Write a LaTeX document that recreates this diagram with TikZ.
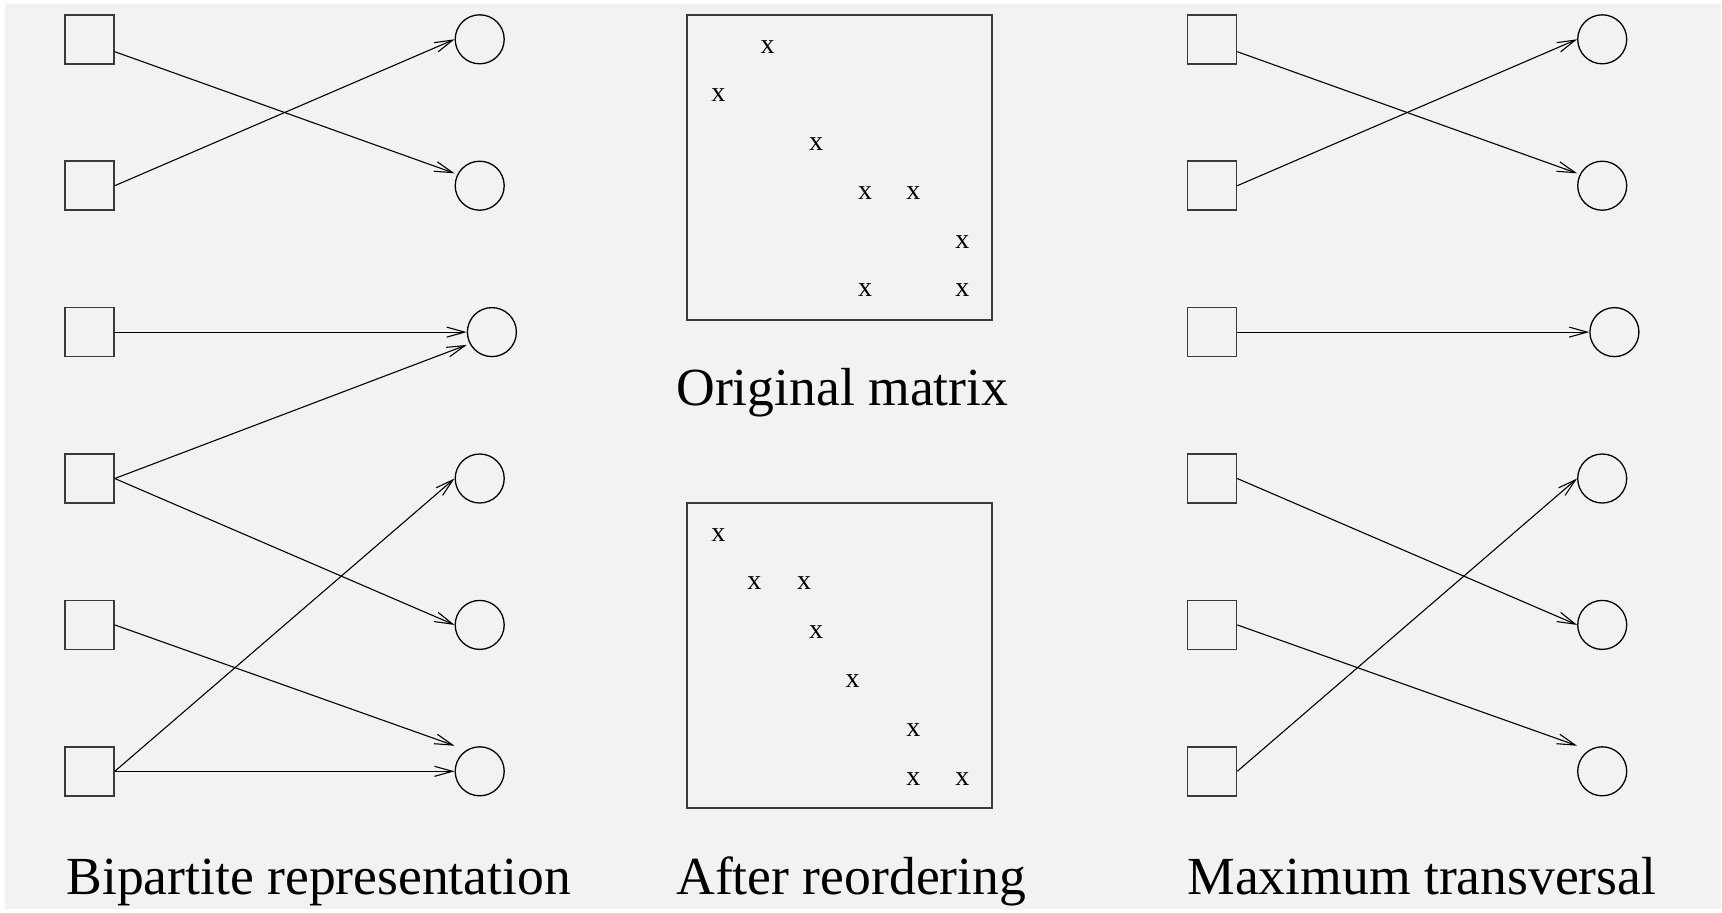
\documentclass[tikz,border=0pt]{standalone}
\usepackage{fontspec}
\setmainfont{Liberation Serif}
\usetikzlibrary{arrows.meta}
\definecolor{bgc}{HTML}{F2F2F2}
\definecolor{outl}{HTML}{3A3A3A}
\begin{document}
\begin{tikzpicture}[x=0.5pt,y=-0.5pt,
  sq/.style={draw=outl, line width=0.75pt, rectangle, minimum size=24.5pt, inner sep=0pt},
  cir/.style={draw=black, line width=0.65pt, circle, minimum size=24.5pt, inner sep=0pt},
  arr/.style={draw=black, line width=0.55pt, -{Straight Barb[length=9pt,width=5pt]}},
  ent/.style={inner sep=0pt, yshift=-1pt, font=\fontsize{14}{16}\selectfont},
  lab/.style={inner sep=0pt, anchor=base west, font=\fontsize{26.8}{30}\selectfont},
  mbox/.style={draw=outl, line width=0.75pt, rectangle, minimum size=152.5pt, inner sep=0pt}]
\useasboundingbox (0,0) rectangle (1722,912);
\fill[white] (0,0) rectangle (1722,912);
\fill[bgc] (5,4) rectangle (1721,909);

% ---------- left: bipartite representation ----------
\foreach \i/\y in {1/39.3,2/185.7,3/332.1,4/478.5,5/624.9,6/771.3}{
  \node[sq] (L\i) at (89.5,\y) {};
}
\node[cir] (R1) at (479.7,39.3) {};
\node[cir] (R2) at (479.7,185.7) {};
\node[cir] (R3) at (491.9,332.1) {};
\node[cir] (R4) at (479.7,478.5) {};
\node[cir] (R5) at (479.7,624.9) {};
\node[cir] (R6) at (479.7,771.3) {};

\draw[arr] ([yshift=-6.2pt]L1.east) -- ([yshift=6.2pt]R2.west);
\draw[arr] (L2.east) -- (R1.west);
\draw[arr] (L3.east) -- (R3.west);
\draw[arr] (L4.east) -- ([yshift=-6.4pt]R3.west);
\draw[arr] (L4.east) -- (R5.west);
\draw[arr] (L5.east) -- ([yshift=12.8pt]R6.west);
\draw[arr] (L6.east) -- (R4.west);
\draw[arr] (L6.east) -- (R6.west);

\node[lab] (tL) at (66,894) {Bipartite representation};

% ---------- middle: matrices ----------
\node[mbox] (MA) at (839.5,167.5) {};
\node[ent] (a12) at (767.7,45) {x};
\node[ent] (a21) at (718.3,93.3) {x};
\node[ent] (a33) at (816,141.7) {x};
\node[ent] (a44) at (865,191) {x};
\node[ent] (a45) at (913.3,191) {x};
\node[ent] (a56) at (962.3,240) {x};
\node[ent] (a64) at (865,288.3) {x};
\node[ent] (a66) at (962.3,288.3) {x};
\node[lab] (tA) at (676,405) {Original matrix};

\node[mbox] (MB) at (839.5,655.5) {};
\node[ent] (b11) at (718.3,533.3) {x};
\node[ent] (b22) at (754.3,580.7) {x};
\node[ent] (b23) at (804,580.7) {x};
\node[ent] (b33) at (816,630) {x};
\node[ent] (b44) at (852.7,679.3) {x};
\node[ent] (b55) at (913.3,727.7) {x};
\node[ent] (b65) at (913.3,776.7) {x};
\node[ent] (b66) at (962.3,776.7) {x};
\node[lab] (tB) at (676,894) {After reordering};

% ---------- right: maximum transversal ----------
\foreach \i/\y in {1/39.3,2/185.7,3/332.1,4/478.5,5/624.9,6/771.3}{
  \node[sq] (P\i) at (1212,\y) {};
}
\node[cir] (Q1) at (1602.2,39.3) {};
\node[cir] (Q2) at (1602.2,185.7) {};
\node[cir] (Q3) at (1614.4,332.1) {};
\node[cir] (Q4) at (1602.2,478.5) {};
\node[cir] (Q5) at (1602.2,624.9) {};
\node[cir] (Q6) at (1602.2,771.3) {};

\draw[arr] ([yshift=-6.2pt]P1.east) -- ([yshift=6.2pt]Q2.west);
\draw[arr] (P2.east) -- (Q1.west);
\draw[arr] (P3.east) -- (Q3.west);
\draw[arr] (P4.east) -- (Q5.west);
\draw[arr] (P5.east) -- ([yshift=12.8pt]Q6.west);
\draw[arr] (P6.east) -- (Q4.west);

\node[lab] (tR) at (1187,894) {Maximum transversal};
\end{tikzpicture}
\end{document}
